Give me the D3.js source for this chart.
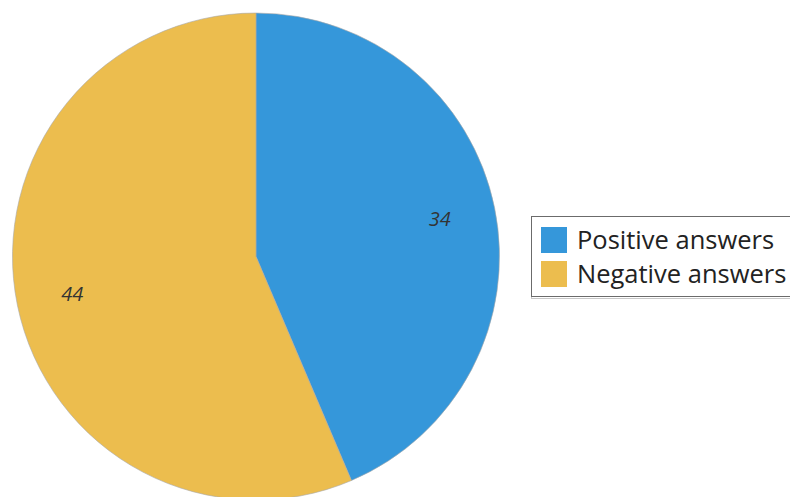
<!DOCTYPE html>
<html>
<head>
<meta charset="utf-8">
<script src="https://cdn.jsdelivr.net/npm/d3@7"></script>
<style>
  html, body { margin: 0; padding: 0; background: #fff; overflow: hidden; }
  svg { display: block; font-family: "Open Sans", "Noto Sans", sans-serif; }
</style>
</head>
<body>
<svg id="chart" width="790" height="497"></svg>
<script>
// Survey answers
const categories = ["Positive answers", "Negative answers"];
const values = [34, 44];
const colors = ["#3597da", "#ecbd4e"];

const svg = d3.select("#chart");
const cx = 256, cy = 256.5, radius = 243.5;

const pie = d3.pie().sort(null).value(d => d.value);
const data = pie(categories.map((c, i) => ({ name: c, value: values[i], color: colors[i] })));

const arc = d3.arc().innerRadius(0).outerRadius(radius);
const labelArc = d3.arc().innerRadius(radius * 0.77).outerRadius(radius * 0.77);

const g = svg.append("g").attr("transform", `translate(${cx},${cy})`);

g.selectAll("path.slice")
  .data(data)
  .join("path")
  .attr("class", "slice")
  .attr("d", arc)
  .attr("fill", d => d.data.color)
  .attr("stroke", "#a9a9a9")
  .attr("stroke-opacity", 0.6)
  .attr("stroke-width", 1);

g.selectAll("text.val")
  .data(data)
  .join("text")
  .attr("class", "val")
  .attr("transform", d => `translate(${labelArc.centroid(d)})`)
  .attr("text-anchor", "middle")
  .attr("dy", "0.35em")
  .attr("font-size", 20)
  .attr("font-style", "italic")
  .attr("fill", "#333")
  .text(d => d.data.value);

// Legend
const legend = svg.append("g").attr("transform", "translate(531,216)");
legend.append("rect")
  .attr("x", 0.5).attr("y", 1.5)
  .attr("width", 290).attr("height", 81)
  .attr("fill", "none").attr("stroke", "#c8c8c8").attr("stroke-width", 1);
legend.append("rect")
  .attr("x", 0.5).attr("y", 0.5)
  .attr("width", 290).attr("height", 80)
  .attr("fill", "#fff").attr("stroke", "#6b6b6b").attr("stroke-width", 1);

const items = legend.selectAll("g.item")
  .data(categories)
  .join("g")
  .attr("class", "item")
  .attr("transform", (d, i) => `translate(10,${11 + i * 34})`);

items.append("rect")
  .attr("width", 26).attr("height", 26)
  .attr("fill", (d, i) => colors[i]);

items.append("text")
  .attr("x", 36).attr("y", 13)
  .attr("dy", "0.35em")
  .attr("font-size", 25.5)
  .attr("fill", "#222")
  .text(d => d);
</script>
</body>
</html>
